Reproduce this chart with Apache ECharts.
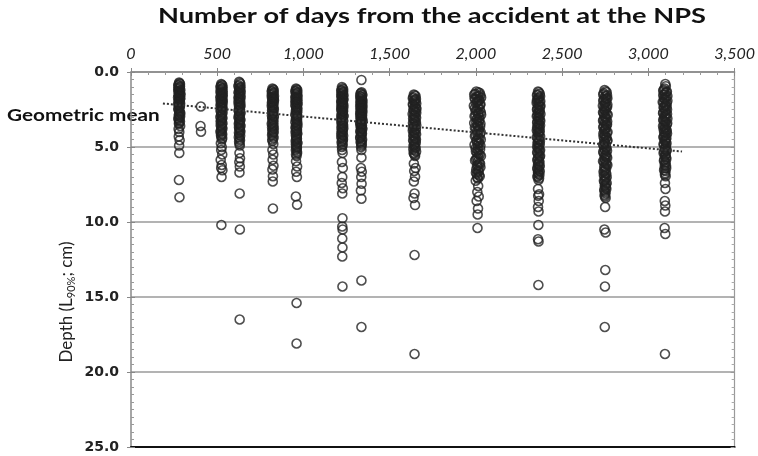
<!DOCTYPE html>
<html><head><meta charset="utf-8">
<script src="https://cdn.jsdelivr.net/npm/echarts@6/dist/echarts.min.js"></script>
<style>html,body{margin:0;padding:0;background:#fff}#c{width:758px;height:456px}</style>
</head><body><div id="c"></div>
<script>
const chartTitle = 'Number of days from the accident at the NPS';
const xTickLabels = ['0','500','1,000','1,500','2,000','2,500','3,000','3,500'];
const yTickLabels = ['0.0','5.0','10.0','15.0','20.0','25.0'];
const meanLabel = 'Geometric mean';

// [days, depth cm] read per sampling campaign
const colA = [[279,0.7],[284,0.8],[274,0.9],[282,1.0],[277,1.1],[286,1.2],[275,1.3],[280,1.4],[287,1.5],[278,1.6],[273,1.7],[284,1.8],[280,1.9],[275,2.0],[285,2.1],[278,2.2],[282,2.3],[274,2.45],[280,2.6],[286,2.75],[277,2.9],[282,3.0],[275,3.15],[284,3.3],[278,3.45],[285,3.6],[276,3.8],[280,4.0],[277,4.3],[282,4.55],[279,4.9],[280,5.4],[278,7.2],[281,8.35]];
const colAdense = [[281,0.75],[276,0.85],[284,0.95],[279,1.05],[274,1.15],[283,1.25],[278,1.35],[285,1.45],[276,1.55],[281,1.65],[286,1.75],[277,1.85],[283,1.95],[279,2.05],[274,2.15],[284,2.25],[280,2.38],[277,2.52],[283,2.68],[279,2.82],[285,2.95],[276,3.08],[281,3.22],[279,3.38]];
const colA2 = [[405,2.3],[403,3.6],[406,3.98]];
const colB = [[523,0.8],[530,0.9],[519,1.0],[528,1.1],[524,1.2],[532,1.3],[520,1.4],[526,1.5],[530,1.6],[518,1.7],[528,1.8],[522,1.9],[532,2.0],[525,2.1],[519,2.2],[530,2.3],[526,2.4],[521,2.55],[531,2.7],[524,2.85],[518,3.0],[528,3.1],[522,3.25],[530,3.4],[520,3.55],[528,3.7],[524,3.85],[519,4.0],[529,4.15],[523,4.3],[527,4.5],[521,4.75],[526,5.0],[523,5.2],[529,5.5],[520,5.85],[526,6.2],[523,6.4],[530,6.55],[525,7.0],[524,10.2]];
const colBdense = [[526,0.85],[521,0.95],[531,1.05],[525,1.15],[519,1.25],[529,1.35],[523,1.45],[532,1.55],[521,1.65],[527,1.75],[531,1.85],[520,1.95],[526,2.05],[529,2.15],[522,2.25],[527,2.35],[531,2.48],[520,2.62],[527,2.78],[523,2.92],[530,3.05],[525,3.18],[520,3.32],[528,3.48],[523,3.62],[530,3.78],[521,3.92],[526,4.08],[522,4.22],[529,4.4]];
const colC = [[627,0.65],[634,0.8],[623,0.95],[632,1.05],[628,1.15],[636,1.3],[625,1.4],[630,1.5],[636,1.65],[626,1.75],[633,1.85],[623,2.0],[630,2.1],[635,2.25],[627,2.35],[632,2.5],[625,2.6],[635,2.75],[628,2.9],[623,3.0],[633,3.15],[630,3.3],[625,3.45],[635,3.6],[628,3.75],[632,3.9],[626,4.05],[633,4.25],[630,4.45],[627,4.65],[631,4.9],[629,5.4],[632,5.75],[628,6.0],[631,6.3],[629,6.7],[630,8.1],[631,10.5],[630,16.5]];
const colCdense = [[631,0.72],[625,0.88],[635,1.0],[627,1.1],[632,1.22],[624,1.35],[633,1.45],[628,1.58],[623,1.7],[631,1.8],[627,1.92],[634,2.05],[625,2.18],[632,2.3],[629,2.42],[624,2.55],[633,2.68],[627,2.82],[631,2.95],[626,3.08],[634,3.22],[628,3.38],[632,3.52],[626,3.68],[630,3.82],[634,3.98],[628,4.15],[625,4.35],[632,4.55],[629,4.78]];
const colD = [[820,1.1],[827,1.2],[816,1.3],[825,1.4],[821,1.5],[829,1.6],[817,1.7],[823,1.8],[829,1.9],[819,2.0],[826,2.1],[816,2.25],[823,2.35],[828,2.5],[819,2.6],[825,2.75],[817,2.9],[828,3.0],[821,3.15],[826,3.3],[816,3.45],[823,3.6],[828,3.75],[819,3.9],[825,4.05],[818,4.2],[826,4.4],[821,4.6],[825,4.8],[820,5.2],[825,5.5],[821,5.85],[826,6.25],[820,6.5],[823,6.95],[822,7.3],[823,9.1]];
const colDdense = [[824,1.15],[818,1.25],[827,1.35],[821,1.45],[816,1.55],[826,1.65],[820,1.75],[828,1.85],[822,1.95],[817,2.05],[825,2.18],[820,2.3],[827,2.42],[818,2.55],[824,2.68],[821,2.82],[827,2.95],[819,3.08],[824,3.22],[820,3.38],[826,3.52],[818,3.68],[823,3.82],[827,3.98],[821,4.12],[825,4.3],[819,4.5]];
const colE = [[957,1.1],[964,1.2],[953,1.3],[962,1.4],[958,1.5],[966,1.6],[954,1.7],[960,1.8],[966,1.9],[956,2.0],[963,2.1],[953,2.2],[960,2.35],[965,2.45],[956,2.6],[962,2.7],[954,2.85],[965,2.95],[958,3.1],[963,3.2],[953,3.35],[960,3.5],[965,3.6],[956,3.75],[962,3.9],[954,4.0],[963,4.15],[958,4.3],[962,4.45],[955,4.6],[965,4.75],[958,4.9],[962,5.05],[956,5.2],[963,5.4],[960,5.6],[957,5.95],[963,6.3],[958,6.65],[962,7.0],[956,8.3],[963,8.85],[960,15.4],[960,18.1]];
const colEdense = [[960,1.15],[955,1.25],[964,1.35],[957,1.45],[962,1.55],[954,1.65],[963,1.75],[958,1.85],[953,1.95],[961,2.05],[966,2.15],[956,2.28],[962,2.4],[958,2.52],[964,2.65],[955,2.78],[960,2.9],[963,3.03],[956,3.15],[961,3.28],[965,3.42],[958,3.55],[954,3.68],[962,3.82],[958,3.95],[964,4.08],[956,4.22],[961,4.38],[958,4.52],[963,4.68],[956,4.82],[961,4.98],[959,5.12],[962,5.3],[957,5.5]];
const colF = [[1223,1.0],[1230,1.15],[1219,1.25],[1228,1.35],[1224,1.45],[1232,1.55],[1220,1.65],[1226,1.75],[1231,1.85],[1219,1.95],[1228,2.05],[1222,2.15],[1232,2.25],[1225,2.35],[1219,2.5],[1230,2.6],[1226,2.7],[1220,2.85],[1232,2.95],[1224,3.05],[1219,3.2],[1229,3.3],[1222,3.45],[1230,3.55],[1220,3.7],[1228,3.8],[1224,3.95],[1219,4.1],[1230,4.25],[1222,4.4],[1228,4.55],[1221,4.7],[1226,4.9],[1224,5.2],[1227,5.4],[1223,6.0],[1228,6.4],[1225,7.0],[1222,7.4],[1228,7.75],[1225,8.1],[1226,9.75],[1225,10.3],[1227,10.5],[1225,11.1],[1226,11.7],[1225,12.3],[1226,14.3]];
const colFdense = [[1226,1.08],[1221,1.2],[1230,1.3],[1224,1.4],[1219,1.5],[1229,1.6],[1223,1.7],[1231,1.8],[1225,1.9],[1220,2.0],[1229,2.1],[1224,2.2],[1219,2.3],[1230,2.42],[1222,2.55],[1228,2.65],[1224,2.78],[1231,2.9],[1220,3.0],[1226,3.12],[1230,3.25],[1221,3.38],[1228,3.5],[1224,3.62],[1231,3.75],[1222,3.88],[1228,4.02],[1225,4.18],[1220,4.32],[1229,4.48],[1224,4.62],[1227,4.8],[1223,5.0]];
const colG = [[1336,0.53],[1333,1.4],[1340,1.5],[1329,1.6],[1338,1.7],[1334,1.8],[1342,1.9],[1330,2.0],[1336,2.1],[1341,2.2],[1329,2.3],[1338,2.4],[1332,2.5],[1342,2.6],[1335,2.7],[1329,2.8],[1340,2.9],[1336,3.0],[1330,3.1],[1342,3.2],[1334,3.3],[1329,3.45],[1339,3.55],[1332,3.7],[1341,3.8],[1330,3.95],[1338,4.05],[1334,4.2],[1329,4.35],[1340,4.5],[1332,4.65],[1338,4.8],[1334,5.0],[1336,5.2],[1336,5.7],[1333,6.4],[1338,6.65],[1335,7.0],[1337,7.45],[1333,7.9],[1336,8.45],[1336,13.9],[1336,17.0]];
const colGdense = [[1337,1.35],[1331,1.45],[1341,1.55],[1335,1.65],[1330,1.75],[1339,1.85],[1333,1.95],[1341,2.05],[1331,2.15],[1337,2.25],[1342,2.35],[1333,2.45],[1338,2.55],[1330,2.65],[1340,2.75],[1334,2.85],[1331,2.95],[1339,3.05],[1335,3.15],[1341,3.25],[1330,3.38],[1337,3.5],[1333,3.62],[1340,3.75],[1335,3.88],[1331,4.0],[1339,4.12],[1336,4.28],[1330,4.42],[1338,4.58],[1333,4.72],[1337,4.9]];
const colH = [[1640,1.5],[1650,1.6],[1634,1.75],[1648,1.85],[1642,1.95],[1654,2.1],[1636,2.2],[1645,2.3],[1655,2.45],[1639,2.55],[1650,2.65],[1633,2.8],[1644,2.9],[1653,3.05],[1640,3.15],[1648,3.3],[1635,3.4],[1654,3.55],[1642,3.65],[1650,3.8],[1634,3.9],[1644,4.05],[1653,4.15],[1639,4.3],[1648,4.45],[1636,4.55],[1651,4.7],[1642,4.85],[1648,5.0],[1637,5.15],[1653,5.3],[1641,5.45],[1647,5.6],[1640,6.1],[1650,6.4],[1642,6.6],[1647,6.98],[1640,7.3],[1644,8.1],[1638,8.4],[1647,8.87],[1644,12.2],[1644,18.8]];
const colHdense = [[1645,1.55],[1637,1.68],[1652,1.8],[1640,1.9],[1649,2.0],[1634,2.15],[1646,2.25],[1652,2.38],[1638,2.5],[1645,2.6],[1654,2.72],[1641,2.85],[1649,2.98],[1636,3.1],[1645,3.22],[1652,3.35],[1639,3.48],[1647,3.6],[1635,3.72],[1651,3.85],[1641,3.98],[1648,4.1],[1637,4.22],[1645,4.38],[1652,4.5],[1640,4.62],[1647,4.78],[1638,4.92],[1650,5.08],[1644,5.22],[1639,5.38],[1646,5.52]];
const colI = [[2002,1.3],[2022,1.4],[1990,1.5],[2014,1.6],[2030,1.7],[1996,1.8],[2018,1.9],[2006,2.0],[2026,2.15],[1988,2.25],[2010,2.35],[2022,2.5],[1998,2.6],[2015,2.75],[2030,2.85],[1992,2.95],[2008,3.1],[2020,3.2],[2002,3.35],[2026,3.45],[2012,3.6],[1994,3.7],[2017,3.85],[2006,3.95],[2024,4.1],[1998,4.2],[2013,4.35],[2028,4.5],[2004,4.6],[2019,4.75],[1992,4.85],[2011,5.0],[2024,5.15],[2000,5.3],[2015,5.45],[2029,5.6],[2007,5.75],[1995,5.9],[2020,6.05],[2010,6.2],[2026,6.35],[2002,6.5],[2016,6.65],[2006,6.8],[2022,6.95],[2011,7.1],[1999,7.25],[2013,7.6],[2008,8.0],[2016,8.3],[2004,8.6],[2012,9.1],[2010,9.5],[2009,10.4]];
const colIdense = [[2014,1.35],[1996,1.45],[2026,1.55],[2006,1.65],[1992,1.75],[2020,1.85],[2010,1.95],[2000,2.08],[2024,2.2],[2016,2.3],[1994,2.42],[2006,2.55],[2028,2.68],[2012,2.8],[1998,2.9],[2020,3.02],[2004,3.15],[2016,3.28],[1990,3.4],[2010,3.52],[2024,3.65],[2000,3.78],[2014,3.9],[2028,4.02],[2008,4.15],[1994,4.28],[2020,4.42],[2004,4.55],[2016,4.68],[2010,4.8],[2026,4.92],[1998,5.08],[2012,5.22],[2006,5.38],[2022,5.52],[2014,5.68],[2000,5.82],[2010,5.98],[2024,6.12],[2006,6.28],[2016,6.42],[2012,6.58],[2000,6.72],[2018,6.88],[2008,7.02]];
const colJ = [[2360,1.3],[2370,1.45],[2354,1.55],[2366,1.7],[2358,1.8],[2373,1.95],[2352,2.05],[2364,2.2],[2371,2.3],[2356,2.45],[2367,2.55],[2360,2.7],[2374,2.8],[2353,2.95],[2363,3.05],[2369,3.2],[2357,3.3],[2366,3.45],[2372,3.55],[2355,3.7],[2362,3.8],[2370,3.95],[2358,4.05],[2366,4.2],[2353,4.35],[2363,4.5],[2371,4.6],[2357,4.75],[2365,4.9],[2360,5.05],[2372,5.2],[2355,5.35],[2364,5.5],[2369,5.65],[2358,5.8],[2366,5.95],[2361,6.1],[2370,6.25],[2356,6.4],[2364,6.55],[2360,6.7],[2368,6.85],[2357,7.0],[2363,7.2],[2360,7.8],[2366,8.15],[2361,8.25],[2364,8.6],[2360,9.0],[2363,9.3],[2362,10.2],[2360,11.15],[2363,11.3],[2362,14.2]];
const colJdense = [[2365,1.35],[2357,1.5],[2372,1.62],[2361,1.75],[2354,1.88],[2368,2.0],[2359,2.12],[2374,2.25],[2362,2.38],[2354,2.5],[2370,2.62],[2364,2.75],[2357,2.88],[2368,3.0],[2361,3.12],[2373,3.25],[2355,3.38],[2364,3.5],[2359,3.62],[2369,3.75],[2353,3.88],[2366,4.0],[2361,4.12],[2372,4.28],[2357,4.42],[2366,4.55],[2360,4.68],[2370,4.82],[2355,4.98],[2364,5.12],[2368,5.28],[2358,5.42],[2372,5.58],[2362,5.72],[2356,5.88],[2368,6.02],[2360,6.18],[2366,6.32],[2357,6.48],[2370,6.62],[2362,6.78],[2358,6.92],[2366,7.08]];
const colK = [[2746,1.2],[2758,1.35],[2738,1.5],[2752,1.6],[2762,1.75],[2742,1.85],[2755,2.0],[2748,2.1],[2736,2.25],[2760,2.35],[2744,2.5],[2752,2.6],[2740,2.75],[2764,2.85],[2749,3.0],[2756,3.1],[2737,3.25],[2746,3.35],[2760,3.5],[2742,3.6],[2753,3.75],[2747,3.85],[2763,4.0],[2739,4.1],[2750,4.25],[2757,4.35],[2744,4.5],[2761,4.6],[2748,4.75],[2738,4.85],[2754,5.0],[2745,5.15],[2760,5.25],[2741,5.4],[2751,5.55],[2757,5.65],[2746,5.8],[2737,5.95],[2753,6.05],[2762,6.2],[2744,6.35],[2750,6.5],[2740,6.65],[2756,6.8],[2747,6.95],[2752,7.1],[2742,7.25],[2758,7.4],[2748,7.55],[2753,7.7],[2744,7.85],[2750,8.0],[2746,8.2],[2752,8.4],[2749,9.0],[2745,10.5],[2752,10.7],[2750,13.2],[2748,14.3],[2747,17.0]];
const colKdense = [[2752,1.28],[2741,1.42],[2760,1.55],[2746,1.68],[2756,1.8],[2738,1.92],[2750,2.05],[2762,2.18],[2744,2.3],[2755,2.42],[2748,2.55],[2737,2.68],[2758,2.8],[2745,2.92],[2752,3.05],[2740,3.18],[2761,3.3],[2749,3.42],[2756,3.55],[2738,3.68],[2750,3.8],[2744,3.92],[2758,4.05],[2747,4.18],[2740,4.3],[2754,4.42],[2762,4.55],[2745,4.68],[2752,4.8],[2742,4.92],[2757,5.08],[2749,5.2],[2738,5.32],[2755,5.48],[2746,5.6],[2761,5.72],[2750,5.88],[2743,6.0],[2757,6.12],[2748,6.28],[2755,6.42],[2745,6.58],[2752,6.72],[2742,6.88],[2758,7.02],[2749,7.18],[2745,7.32],[2754,7.48],[2748,7.62],[2756,7.78],[2746,7.92],[2751,8.1],[2748,8.3]];
const colL = [[3098,0.8],[3094,1.1],[3086,1.25],[3104,1.35],[3092,1.5],[3110,1.6],[3090,1.75],[3100,1.85],[3083,2.0],[3106,2.1],[3095,2.25],[3088,2.35],[3108,2.5],[3097,2.6],[3085,2.75],[3102,2.85],[3092,3.0],[3110,3.1],[3089,3.25],[3099,3.35],[3106,3.5],[3085,3.6],[3096,3.75],[3103,3.85],[3091,4.0],[3108,4.1],[3094,4.25],[3087,4.35],[3101,4.5],[3097,4.6],[3105,4.75],[3090,4.85],[3099,5.0],[3094,5.15],[3104,5.25],[3088,5.4],[3098,5.55],[3102,5.7],[3092,5.85],[3099,6.0],[3095,6.2],[3103,6.4],[3091,6.55],[3097,6.75],[3100,6.95],[3096,7.4],[3099,7.8],[3095,8.6],[3098,8.9],[3096,9.3],[3094,10.4],[3098,10.8],[3096,18.8]];
const colLdense = [[3101,0.95],[3089,1.18],[3107,1.3],[3096,1.42],[3086,1.55],[3103,1.68],[3094,1.8],[3110,1.92],[3088,2.05],[3099,2.18],[3105,2.3],[3091,2.42],[3100,2.55],[3087,2.68],[3108,2.8],[3095,2.92],[3102,3.05],[3086,3.18],[3097,3.3],[3109,3.42],[3092,3.55],[3100,3.68],[3088,3.8],[3106,3.92],[3096,4.05],[3101,4.18],[3090,4.3],[3104,4.42],[3094,4.55],[3099,4.68],[3088,4.8],[3102,4.92],[3096,5.08],[3106,5.2],[3092,5.32],[3100,5.48],[3095,5.62],[3104,5.78],[3090,5.92],[3098,6.08],[3102,6.25],[3094,6.42],[3099,6.6],[3096,6.85]];
const meanLine = [[185,2.1],[3195,5.3]];

const allPts = [].concat(colA, colAdense, colA2, colB, colBdense, colC, colCdense, colD, colDdense,
  colE, colEdense, colF, colFdense, colG, colGdense, colH, colHdense, colI, colIdense,
  colJ, colJdense, colK, colKdense, colL, colLdense);

const FONT = 'Lato';
const chart = echarts.init(document.getElementById('c'), null, {renderer:'canvas'});
const yBase = {type:'value', min:0, max:25, interval:5, inverse:true};
const xBase = {type:'value', min:0, max:3500, interval:500};
chart.setOption({
  animation:false,
  backgroundColor:'#fff',
  grid:{left:131, right:22, top:72, bottom:9, containLabel:false},
  xAxis:[
    Object.assign({}, xBase, {position:'top',
      axisLine:{show:true, onZero:false, lineStyle:{color:'#888', width:1.5}},
      axisTick:{show:true, inside:false, length:4, lineStyle:{color:'#888'}},
      axisLabel:{show:true, margin:10, formatter:v=>xTickLabels[Math.round(v/500)],
        fontFamily:FONT, fontStyle:'italic', fontSize:16, color:'#222'},
      splitLine:{show:false}}),
    Object.assign({}, xBase, {position:'top',
      axisLine:{show:false, onZero:false},
      axisTick:{show:true, inside:true, length:4, lineStyle:{color:'#888'}},
      minorTick:{show:true, splitNumber:5, length:3, lineStyle:{color:'#999'}},
      axisLabel:{show:false}, splitLine:{show:false}}),
    Object.assign({}, xBase, {position:'bottom',
      axisLine:{show:true, onZero:false, lineStyle:{color:'#111', width:2}},
      axisTick:{show:false}, axisLabel:{show:false}, splitLine:{show:false}})
  ],
  yAxis:[
    Object.assign({}, yBase, {position:'left',
      axisLine:{show:true, onZero:false, lineStyle:{color:'#888', width:1.5}},
      axisTick:{show:true, inside:false, length:4, lineStyle:{color:'#888'}},
      axisLabel:{show:true, margin:12, formatter:v=>yTickLabels[Math.round(v/5)],
        fontFamily:'DejaVu Sans', fontWeight:'bold', fontSize:14, color:'#222'},
      splitLine:{show:true, lineStyle:{color:'#9a9a9a', width:1.5}}}),
    Object.assign({}, yBase, {position:'left',
      axisLine:{show:false, onZero:false},
      axisTick:{show:true, inside:true, length:4, lineStyle:{color:'#888'}},
      minorTick:{show:true, splitNumber:10, length:3, lineStyle:{color:'#999'}},
      axisLabel:{show:false}, splitLine:{show:false}}),
    Object.assign({}, yBase, {position:'right',
      axisLine:{show:true, onZero:false, lineStyle:{color:'#999', width:1.2}},
      axisTick:{show:true, inside:true, length:4, lineStyle:{color:'#999'}},
      minorTick:{show:true, splitNumber:10, length:3, lineStyle:{color:'#aaa'}},
      axisLabel:{show:false}, splitLine:{show:false}})
  ],
  series:[
    {type:'scatter', xAxisIndex:0, yAxisIndex:0, data:allPts, symbol:'circle', symbolSize:9,
      itemStyle:{color:'rgba(0,0,0,0)', borderColor:'#222', borderWidth:1.6}, z:3},
    {type:'line', xAxisIndex:0, yAxisIndex:0, data:meanLine, symbol:'none',
      lineStyle:{color:'#333', width:2, type:[2,2]}, z:4}
  ],
  graphic:[
    {type:'text', x:432, y:17, scaleX:1.36,
      style:{text:chartTitle, font:'bold 20px '+FONT, fill:'#111', align:'center', verticalAlign:'middle'}},
    {type:'text', x:7, y:116, scaleX:1.22,
      style:{text:meanLabel, font:'bold 17px '+FONT, fill:'#111', align:'left', verticalAlign:'middle'}},
    {type:'text', x:67, y:302, rotation:Math.PI/2,
      style:{text:'{a|Depth (L}{s|90%}{a|; cm)}', align:'center', verticalAlign:'middle',
        rich:{a:{fontFamily:FONT, fontSize:17, fill:'#222', verticalAlign:'middle'},
              s:{fontFamily:FONT, fontSize:11, fill:'#222', padding:[8,0,0,0]}}}}
  ]
});
</script></body></html>
